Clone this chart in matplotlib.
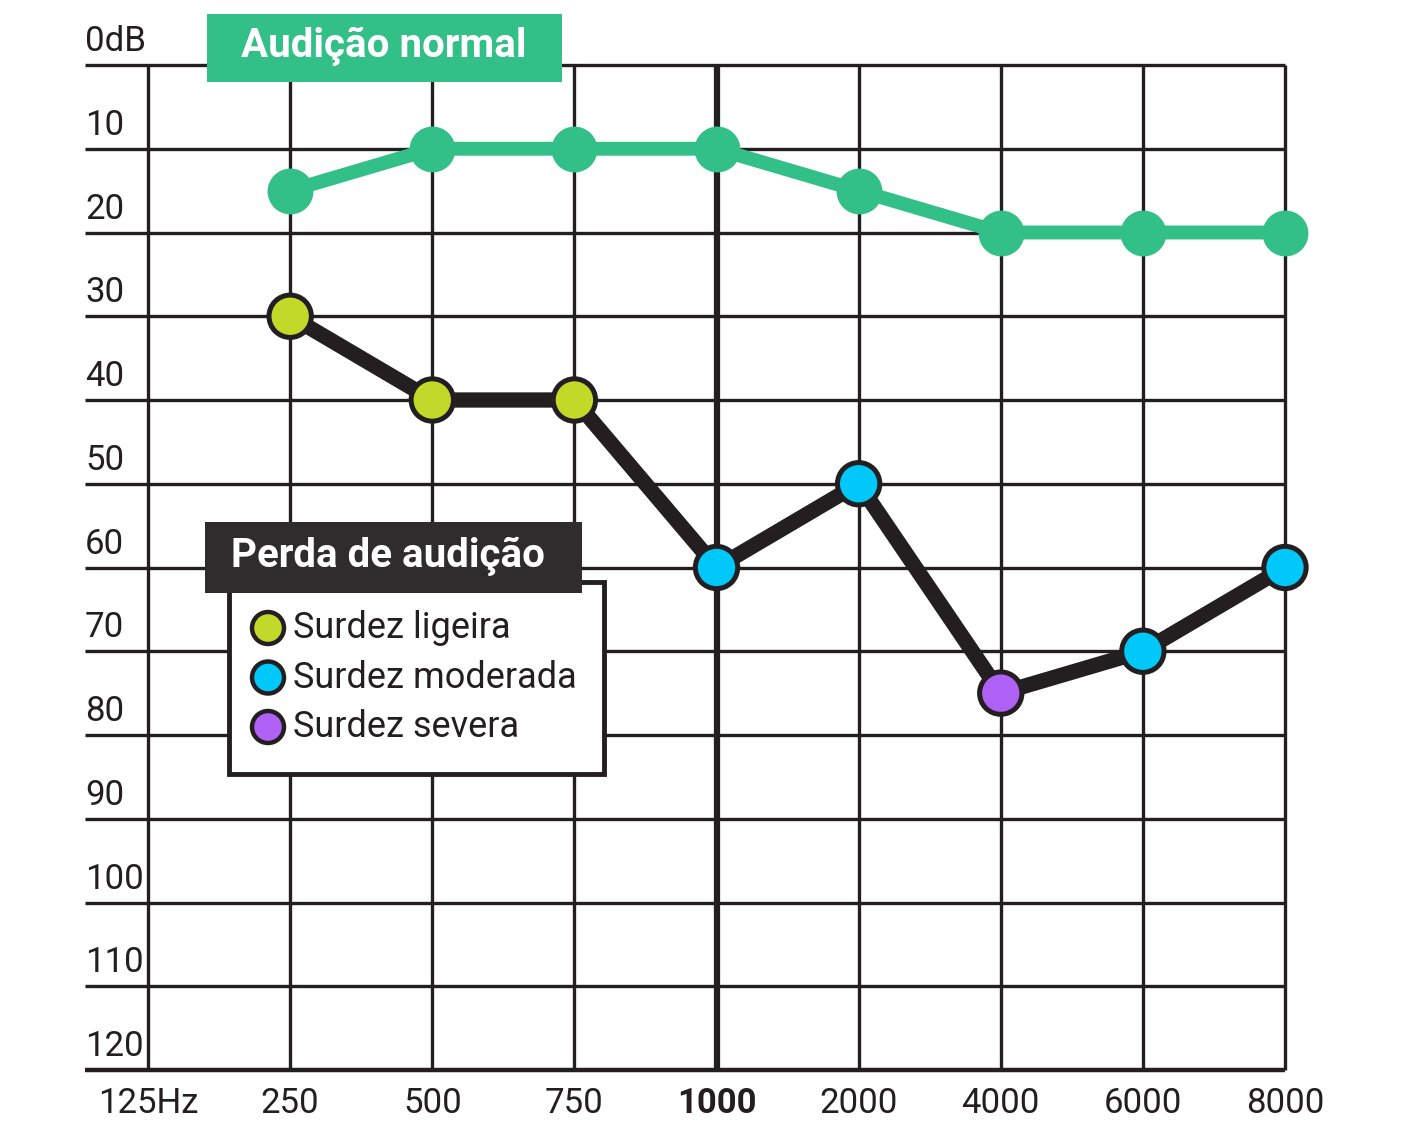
import matplotlib
matplotlib.use("Agg")
import matplotlib.pyplot as plt
from matplotlib.patches import Rectangle, Ellipse

plt.rcParams['font.family'] = ['Roboto', 'DejaVu Sans']

freqs = ['125Hz', '250', '500', '750', '1000', '2000', '4000', '6000', '8000']
db_levels = [0, 10, 20, 30, 40, 50, 60, 70, 80, 90, 100, 110, 120]
db_labels = ['0dB', '10', '20', '30', '40', '50', '60', '70', '80', '90', '100', '110', '120']

# normal hearing (from 250 Hz on)
normal = [15, 10, 10, 10, 15, 20, 20, 20]
# hearing loss curve
loss = [30, 40, 40, 60, 50, 75, 70, 60]
loss_type = ['ligeira', 'ligeira', 'ligeira', 'moderada', 'moderada', 'severa', 'moderada', 'moderada']

legend_names = ['Surdez ligeira', 'Surdez moderada', 'Surdez severa']
colors = {'ligeira': '#c2d92a', 'moderada': '#00c8f8', 'severa': '#b061f5'}
green = '#33bf88'
dark = '#231f20'

W, H = 1401, 1122
fig = plt.figure(figsize=(W / 100, H / 100), dpi=100)
fig.patch.set_facecolor('white')

def fx(x):
    return x / W

def fy(y):
    return 1 - y / H

left_px, right_px, top_px, bot_px = 85, 1285, 65, 1070
ax = fig.add_axes([fx(left_px), fy(bot_px), fx(right_px - left_px), (bot_px - top_px) / H])
x0 = -(148 - 85) / 142.0
ax.set_xlim(x0, len(freqs) - 1)
ax.set_ylim(120, 0)
ax.axis('off')

# grid
for i, f in enumerate(freqs):
    lw = 4.5 if f == '1000' else 2.4
    ax.vlines(i, 0, 120, color=dark, lw=lw, zorder=1, clip_on=False)
for d in db_levels:
    lw = 3.2 if d == 120 else 2.4
    ax.hlines(d, x0, len(freqs) - 1, color=dark, lw=lw, zorder=1, clip_on=False)

# y labels above the lines
for d, lab in zip(db_levels, db_labels):
    ax.annotate(lab, (x0, d), xytext=(0, 5), textcoords='offset points',
                ha='left', va='bottom', fontsize=25, color=dark)

# x labels
for i, f in enumerate(freqs):
    ax.annotate(f, (i, 120), xytext=(0, -24), textcoords='offset points',
                ha='center', va='center', fontsize=25, color=dark,
                fontweight='bold' if f == '1000' else 'normal')

xs = list(range(1, len(freqs)))
ax.plot(xs, normal, color=green, lw=10, solid_capstyle='round', zorder=3, clip_on=False)
ax.scatter(xs, normal, s=1090, color=green, zorder=4, clip_on=False, linewidths=0)

ax.plot(xs, loss, color=dark, lw=11, solid_joinstyle='round', zorder=5, clip_on=False)
ax.scatter(xs, loss, s=930, c=[colors[t] for t in loss_type], edgecolors=dark,
           linewidths=3.6, zorder=6, clip_on=False)

# title box for normal hearing
fig.add_artist(Rectangle((fx(207), fy(82)), fx(562 - 207), (82 - 14) / H,
                         transform=fig.transFigure, facecolor=green, edgecolor='none', zorder=10))
fig.text(fx(384), fy(46), 'Audição normal', ha='center', va='center', fontsize=29,
         fontweight='bold', color='white', zorder=11)

# legend box
fig.add_artist(Rectangle((fx(229), fy(774)), fx(604 - 229), (774 - 582) / H,
                         transform=fig.transFigure, facecolor='white', edgecolor=dark,
                         lw=3.5, zorder=10))
fig.add_artist(Rectangle((fx(205), fy(593)), fx(582 - 205), (593 - 522) / H,
                         transform=fig.transFigure, facecolor='#2e2c2c', edgecolor='none', zorder=11))
fig.text(fx(388), fy(556), 'Perda de audição', ha='center', va='center', fontsize=29,
         fontweight='bold', color='white', zorder=12)

r = 16
for k, (name, key) in enumerate(zip(legend_names, ['ligeira', 'moderada', 'severa'])):
    yy = 628 + k * 49.5
    fig.add_artist(Ellipse((fx(268), fy(yy)), 2 * r / W, 2 * r / H, transform=fig.transFigure,
                           facecolor=colors[key], edgecolor=dark, lw=3.2, zorder=12))
    fig.text(fx(293), fy(yy), name, ha='left', va='center', fontsize=26, color=dark, zorder=12)

fig.savefig('out.png', dpi=100)
